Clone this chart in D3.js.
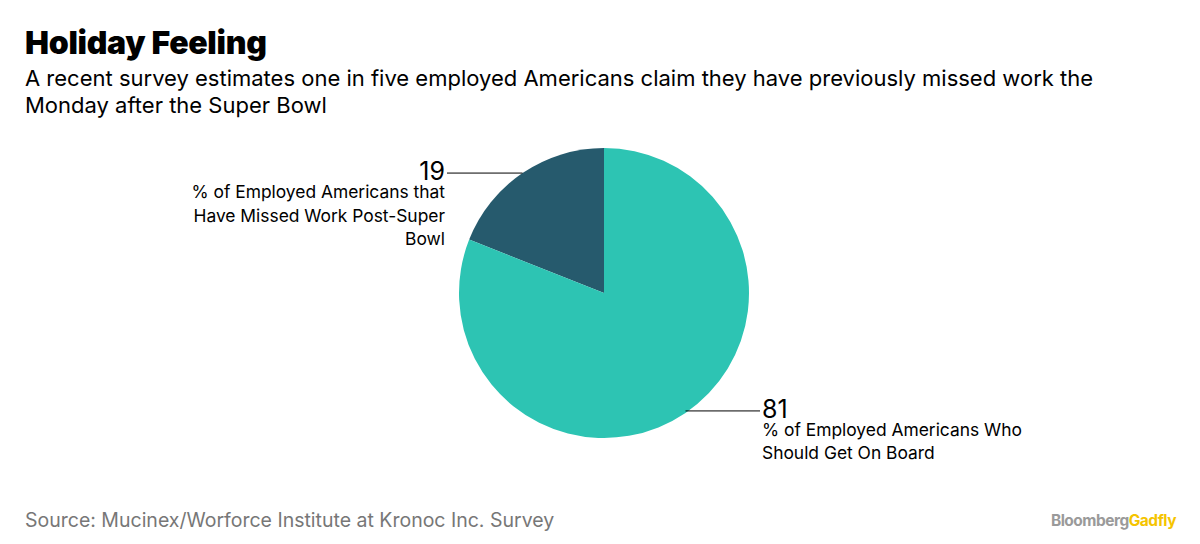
<!DOCTYPE html>
<html lang="en">
<head>
<meta charset="UTF-8">
<title>Holiday Feeling</title>
<script src="https://d3js.org/d3.v7.min.js"></script>
<style>
  body { margin: 0; background: #fff; font-family: "Inter", "Noto Sans", sans-serif; }
  .title { font-size: 32px; font-weight: 900; fill: #000; letter-spacing: -0.3px; }
  .subtitle { font-size: 22px; fill: #000; }
  .source { font-size: 19.5px; fill: #777; }
  .val { font-size: 25px; fill: #000; }
  .lab { font-size: 17.4px; fill: #000; }
</style>
</head>
<body>
<div id="chart"></div>
<script>
const categories = [
  "% of Employed Americans that Have Missed Work Post-Super Bowl",
  "% of Employed Americans Who Should Get On Board"
];
const values = [19, 81];
const labelLines = [
  ["% of Employed Americans that", "Have Missed Work Post-Super", "Bowl"],
  ["% of Employed Americans Who", "Should Get On Board"]
];
const colors = ["#265a6d", "#2dc4b3"];

const W = 1200, H = 544;
const cx = 604, cy = 293, r = 145;

const svg = d3.select("#chart").append("svg")
  .attr("width", W).attr("height", H);

svg.append("text").attr("class", "title").attr("x", 25).attr("y", 54).text("Holiday Feeling");
svg.append("text").attr("class", "subtitle").attr("x", 25).attr("y", 86)
  .text("A recent survey estimates one in five employed Americans claim they have previously missed work the");
svg.append("text").attr("class", "subtitle").attr("x", 25).attr("y", 113)
  .text("Monday after the Super Bowl");

// pie, the first slice runs counterclockwise from 12 o'clock
const data = values.map((v, i) => ({ name: categories[i], value: v, lines: labelLines[i], color: colors[i] }));
const pie = d3.pie().value(d => d.value).sort(null)
  .startAngle(-2 * Math.PI * values[0] / 100)
  .endAngle(2 * Math.PI - 2 * Math.PI * values[0] / 100);
const arcs = pie(data);
const arc = d3.arc().innerRadius(0).outerRadius(r);

const g = svg.append("g").attr("transform", `translate(${cx},${cy})`);
g.selectAll("path").data(arcs).enter().append("path")
  .attr("d", arc)
  .attr("fill", d => d.data.color);

// labels with horizontal leader lines
arcs.forEach((a, i) => {
  const mid = (a.startAngle + a.endAngle) / 2;
  const px = Math.sin(mid) * r, py = -Math.cos(mid) * r;
  const left = px < 0;
  const lx = left ? -157 : 156;
  const ly = left ? py : py - 2;
  g.append("line")
    .attr("x1", px).attr("y1", ly).attr("x2", lx).attr("y2", ly)
    .attr("stroke", "#000").attr("stroke-width", 1);
  const tx = left ? lx - 2 : lx + 2;
  const anchor = left ? "end" : "start";
  g.append("text").attr("class", "val")
    .attr("x", tx).attr("y", ly + 7)
    .attr("text-anchor", anchor)
    .text(a.data.value);
  a.data.lines.forEach((ln, j) => {
    g.append("text").attr("class", "lab")
      .attr("x", tx).attr("y", ly + 25 + j * 23.5)
      .attr("text-anchor", anchor)
      .text(ln);
  });
});

svg.append("text").attr("class", "source").attr("x", 25).attr("y", 527)
  .text("Source: Mucinex/Worforce Institute at Kronoc Inc. Survey");

const logo = svg.append("text").attr("x", 1176).attr("y", 526)
  .attr("text-anchor", "end")
  .style("font-size", "15.5px").style("font-weight", "700").style("letter-spacing", "-0.5px");
logo.append("tspan").attr("fill", "#9a9a9a").text("Bloomberg");
logo.append("tspan").attr("fill", "#f5c400").text("Gadfly");
</script>
</body>
</html>
